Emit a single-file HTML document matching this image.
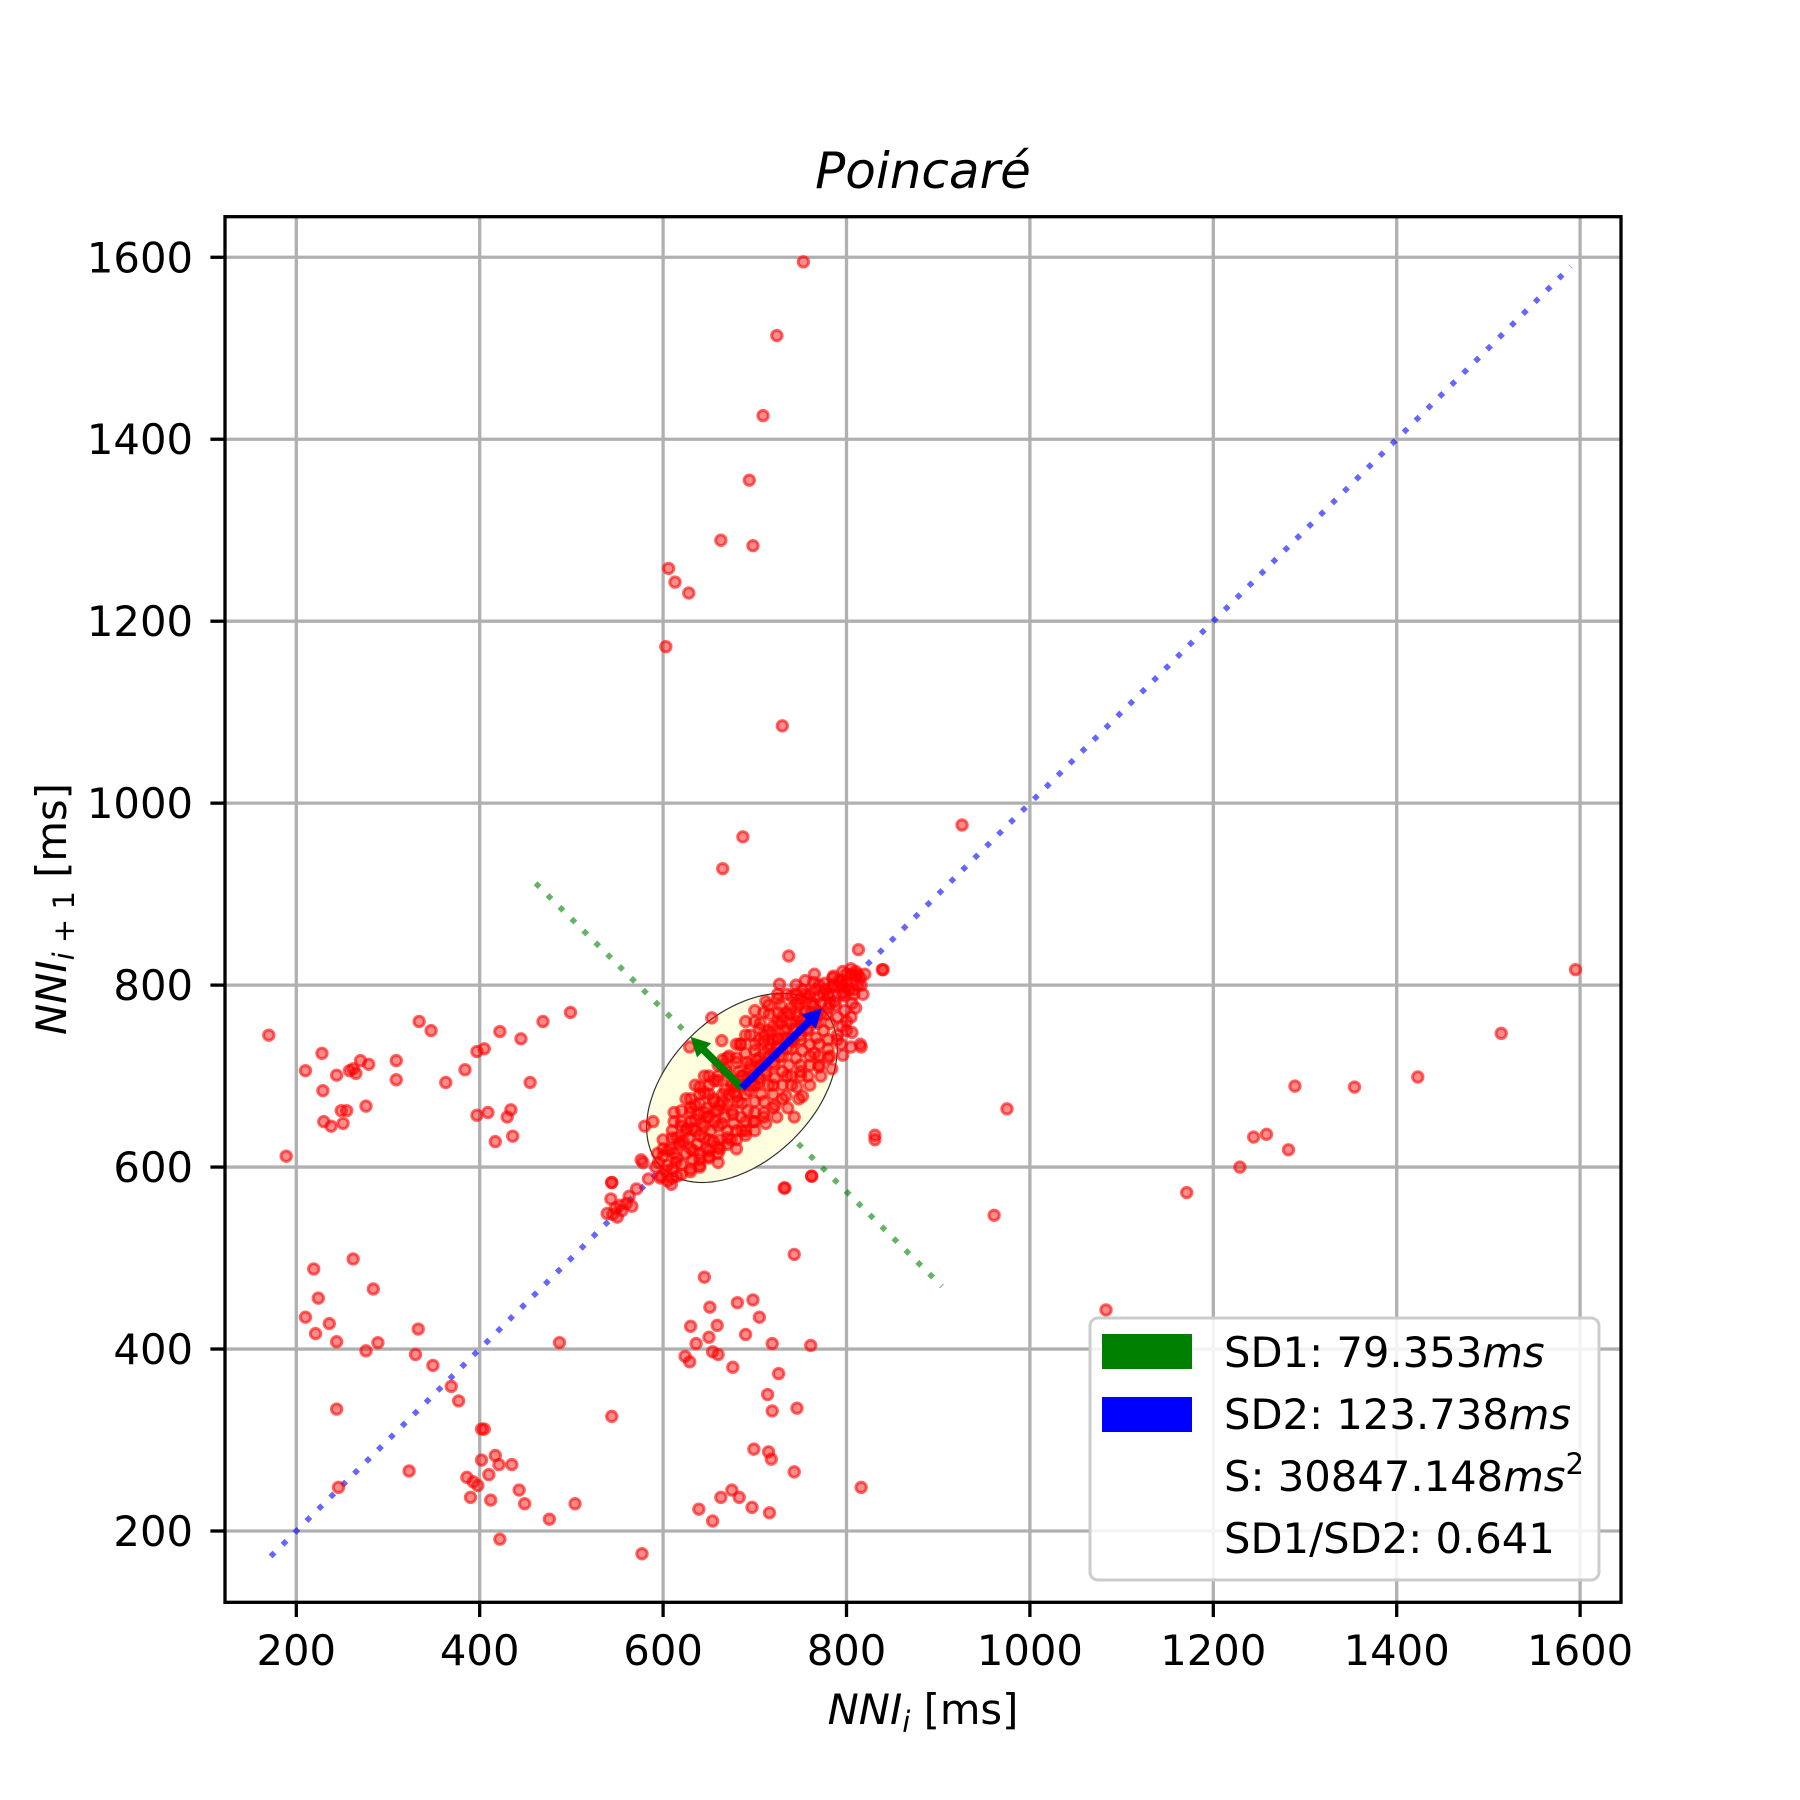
<!DOCTYPE html>
<html><head><meta charset="utf-8"><style>
html,body{margin:0;padding:0;background:#fff;}
svg{display:block;font-family:"DejaVu Sans","Liberation Sans",sans-serif;}
</style></head><body>
<svg id="chart" width="1800" height="1800" viewBox="0 0 1800 1800">
<rect x="0" y="0" width="1800" height="1800" fill="#fff"/>
<g id="grid"></g>
<g id="lines"></g>
<g id="ell"></g>
<g id="pts"></g>
<g id="arrows"></g>
<rect x="225" y="216.7" width="1396" height="1385.6" fill="none" stroke="#000" stroke-width="3.3"/>
<g id="ticks"></g>
<text x="923" y="188" text-anchor="middle" font-size="50" font-style="italic">Poincaré</text>
<text x="923" y="1724" text-anchor="middle" font-size="41.7"><tspan font-style="italic">NNI</tspan><tspan font-style="italic" font-size="29" dy="8">i</tspan><tspan dy="-8"> [ms]</tspan></text>
<text transform="translate(66,909) rotate(-90)" text-anchor="middle" font-size="41.7"><tspan font-style="italic">NNI</tspan><tspan font-size="29" dy="8"><tspan font-style="italic">i</tspan> + 1</tspan><tspan dy="-8"> [ms]</tspan></text>
<g>
<rect x="1090" y="1318" width="509" height="262" rx="8" fill="#fff" fill-opacity="0.85" stroke="#cccccc" stroke-width="3"/>
<rect x="1102" y="1334" width="90" height="35" fill="#008000"/>
<rect x="1102" y="1397" width="90" height="35" fill="#0000ff"/>
<text x="1224" y="1367" font-size="41.7">SD1: 79.353<tspan font-style="italic">ms</tspan></text>
<text x="1224" y="1429" font-size="41.7">SD2: 123.738<tspan font-style="italic">ms</tspan></text>
<text x="1224" y="1491" font-size="41.7">S: 30847.148<tspan font-style="italic">ms</tspan><tspan font-size="29" dy="-17">2</tspan></text>
<text x="1224" y="1553" font-size="41.7">SD1/SD2: 0.641</text>
</g>
</svg>
<script>
const xTicks=[200,400,600,800,1000,1200,1400,1600];
const yTicks=[200,400,600,800,1000,1200,1400,1600];
const meanNN=[686,687];
const sd1=79.353, sd2=123.738;
const identityRange=[172,1590];
const perpRange=[461,904];
const outlierX=[753,724,709,694,663,698,606,613,628,603,730,687,665,926,737,975,961,831,840,813,732,762,743,1083,1171,1229,1244,1258,1282,1289,1354,1423,1514,1595,816,
170,189,210,228,229,244,258,262,270,279,265,230,238,249,255,251,276,309,309,334,347,363,384,397,405,397,409,417,422,430,434,436,445,455,469,499,
219,224,210,221,236,244,244,262,284,276,289,333,330,349,369,377,246,323,386,393,398,390,402,405,402,410,412,417,421,435,422,443,449,476,487,504,544,577,
645,681,698,705,690,659,651,630,636,650,654,660,624,629,676,719,726,714,719,715,718,699,746,761,743,639,663,654,675,683,697,716,
653,727,839,831,733,762,629,664,816,796,752,743,580,589,576,544,609,597];
const outlierY=[1595,1514,1426,1355,1289,1283,1258,1243,1231,1172,1085,963,928,976,832,664,547,630,817,839,577,590,504,443,572,600,633,636,619,689,688,699,747,817,248,
745,612,706,725,684,701,706,708,717,713,703,650,645,662,662,648,667,717,696,760,750,693,707,727,730,657,660,628,749,655,663,634,741,693,760,770,
488,456,435,417,428,408,334,499,466,398,407,422,394,382,359,343,248,266,259,254,250,237,312,312,278,262,234,283,273,273,191,245,230,213,407,230,326,175,
479,451,454,435,416,426,446,425,406,413,397,394,392,386,380,406,373,350,332,287,279,290,335,404,265,224,237,211,245,237,226,220,
764,801,817,635,577,590,732,739,732,723,678,655,645,650,608,583,581,588];
const clusterX=[592,598,600,605,610,608,615,618,620,625,628,630,632,635,637,640,642,645,647,650,652,655,657,660,662,665,667,670,672,675,677,680,682,685,687,690,692,695,697,700,702,705,707,710,712,715,717,720,722,725,727,730,732,735,737,740,742,745,747,750,752,755,757,760,762,765,767,770,772,775,777,780,782,785,787,790,792,795,798,800,803,806,810,812,815,818,
640,650,660,670,680,690,700,710,715,725,735,745,755,765,660,670,680,690,700,710,720,730,740,750,760,770,780,790,800,620,630,610,600,640,650,700,720,740,760,780,795,770,805,815,800,808,810,
544,543,553,539,545,550,555,563,566,571,578,584,594,548,560,
615,625,635,645,655,665,675,685,695,705,715,725,735,745,755,765,775,785,795,805,
605,618,632,648,662,678,692,708,722,738,752,768,782,797];
const clusterY=[600,590,612,602,598,620,610,625,603,615,632,620,608,640,625,615,648,632,620,655,640,628,662,645,630,672,655,640,680,662,648,690,672,655,700,680,662,708,690,672,718,698,680,725,705,690,735,715,698,742,722,705,750,730,712,758,738,720,765,745,728,772,752,735,780,760,742,788,768,750,795,775,758,800,782,765,805,790,772,812,795,780,815,800,808,790,
680,690,700,720,735,745,760,770,778,785,790,800,805,812,615,625,630,640,650,655,665,675,690,700,712,722,730,740,750,650,665,640,630,600,610,690,740,740,760,790,800,735,732,735,805,790,810,
583,565,558,549,548,545,552,568,557,576,605,587,615,555,560,
632,640,652,660,672,680,690,700,712,720,730,740,752,760,770,778,790,798,805,812,
618,628,642,655,668,682,698,712,725,740,755,768,780,792];
const coreX=[595,603,612,600,622,614,626,633,640,630,645,638,650,656,648,660,664,655,670,668,676,680,674,686,688,683,694,698,692,704,706,700,712,716,710,722,724,718,730,734,728,740,744,738,750,752,748,758,762,757,768,772,766,778,780,776,788,790,786,798,800,796,808,812,805,816,820,760,750,740,730,720,710,700,690,680,670,660,650,640,630,620,610,700,710,720,730,740,750,760,770,780,790,800,810,690,680,670,660,650,640,630,620,610,770,785,745,725,705,685,665,645,635,625,612,615,605];
const coreY=[605,596,615,620,628,605,642,618,635,650,645,658,630,650,665,662,648,675,668,685,658,678,695,670,690,705,684,700,715,692,712,728,702,722,738,712,732,748,722,742,758,730,752,768,740,762,778,750,770,786,758,780,795,768,788,802,778,798,810,788,800,815,795,812,818,800,812,790,785,775,765,755,745,735,725,715,705,695,680,670,660,645,632,660,672,680,690,700,712,722,710,720,745,760,775,650,640,632,622,618,608,598,592,588,800,808,790,770,752,735,718,700,690,675,660,590,585];
const edgeX=[650,660,672,684,695,706,716,728,740,752,764,640,630,620,612,690,700,712,725,705,715,725,735,745,755,680,668,656,645,635,
650,662,674,686,698,710,722,734,746,758,770,782,794,806,700,712,724,736,748,760,772,784,720,735,750,765,780,795,805,640,630,660,680,690];
const edgeY=[700,712,722,735,745,758,768,778,788,795,803,688,675,662,650,760,772,782,790,740,750,760,770,780,790,720,708,695,682,668,
612,620,630,640,650,660,668,678,688,700,712,722,735,748,640,648,655,665,675,690,700,708,690,700,705,725,740,755,765,602,595,605,620,635];

const NS='http://www.w3.org/2000/svg';
const X=v=>296.3+(v-200)*0.9170;
const Y=v=>1531-(v-200)*0.9098;
function mk(parent,tag,attrs){const e=document.createElementNS(NS,tag);for(const k in attrs)e.setAttribute(k,attrs[k]);parent.appendChild(e);return e;}
const grid=document.getElementById('grid'),ticks=document.getElementById('ticks');
xTicks.forEach(t=>{
  const l=mk(grid,'line',{x1:X(t),x2:X(t),y1:216.7,y2:1602.3,stroke:'#b0b0b0','stroke-width':3.3});
  
  
  const tk=mk(ticks,'line',{x1:X(t),x2:X(t),y1:1602.3,y2:1617,stroke:'#000','stroke-width':3.3});
  
  
  const tx=mk(ticks,'text',{x:X(t),y:1665,'text-anchor':'middle','font-size':41.7});
  tx.textContent=t;
  
  
});
yTicks.forEach(t=>{
  const l=mk(grid,'line',{x1:225,x2:1621,y1:Y(t),y2:Y(t),stroke:'#b0b0b0','stroke-width':3.3});
  
  
  const tk=mk(ticks,'line',{x1:210.4,x2:225,y1:Y(t),y2:Y(t),stroke:'#000','stroke-width':3.3});
  
  
  const tx=mk(ticks,'text',{x:193,y:Y(t)+15,'text-anchor':'end','font-size':41.7});
  tx.textContent=t;
  
  
});
const lines=document.getElementById('lines');
const idl=mk(lines,'line',{x1:X(identityRange[0]),y1:Y(identityRange[0]),x2:X(identityRange[1]),y2:Y(identityRange[1]),stroke:'#0000ff','stroke-opacity':0.6,'stroke-width':5.5,'stroke-dasharray':'5.5 11.3'});


const s=meanNN[0]+meanNN[1];
const pl=mk(lines,'line',{x1:X(perpRange[0]),y1:Y(s-perpRange[0]),x2:X(perpRange[1]),y2:Y(s-perpRange[1]),stroke:'#008000','stroke-opacity':0.6,'stroke-width':5.5,'stroke-dasharray':'5.5 11.3'});


const ellG=document.getElementById('ell');
let d='';
for(let i=0;i<=120;i++){const a=i/120*2*Math.PI;const u=sd2*Math.cos(a),w=sd1*Math.sin(a);
  const dx=(u-w)/Math.SQRT2,dy=(u+w)/Math.SQRT2;
  d+=(i?'L':'M')+X(meanNN[0]+dx).toFixed(1)+' '+Y(meanNN[1]+dy).toFixed(1);}
const el=mk(ellG,'path',{d:d+'Z',fill:'#ffffe0',stroke:'#333','stroke-width':1.2});


const pts=document.getElementById('pts');
function dot(x,y){const c=mk(pts,'circle',{cx:X(x),cy:Y(y),r:5.2,fill:'#ff0000','fill-opacity':0.45,stroke:'#ff0000','stroke-opacity':0.6,'stroke-width':3});
  
  }
clusterX.forEach((x,i)=>dot(x,clusterY[i]));
coreX.forEach((x,i)=>dot(x,coreY[i]));
edgeX.forEach((x,i)=>dot(x,edgeY[i]));
outlierX.forEach((x,i)=>dot(x,outlierY[i]));
const ar=document.getElementById('arrows');
function arrow(ex,ey,col,name){
  const x0=X(meanNN[0]),y0=Y(meanNN[1]),x1=X(ex),y1=Y(ey);
  const L=Math.hypot(x1-x0,y1-y0),ux=(x1-x0)/L,uy=(y1-y0)/L,px=-uy,py=ux;
  const hl=19,hw=10,sw=3.8;
  const bx=x1-ux*hl,by=y1-uy*hl;
  const pts=[[x0+px*sw,y0+py*sw],[bx+px*sw,by+py*sw],[bx+px*hw,by+py*hw],[x1,y1],[bx-px*hw,by-py*hw],[bx-px*sw,by-py*sw],[x0-px*sw,y0-py*sw]];
  const p=mk(ar,'polygon',{points:pts.map(q=>q[0].toFixed(1)+','+q[1].toFixed(1)).join(' '),fill:col});
  
  
}
const k1=sd1/Math.SQRT2,k2=sd2/Math.SQRT2;
arrow(meanNN[0]-k1,meanNN[1]+k1,'#008000','sd1-arrow');
arrow(meanNN[0]+k2,meanNN[1]+k2,'#0000ff','sd2-arrow');
</script>
</body></html>
